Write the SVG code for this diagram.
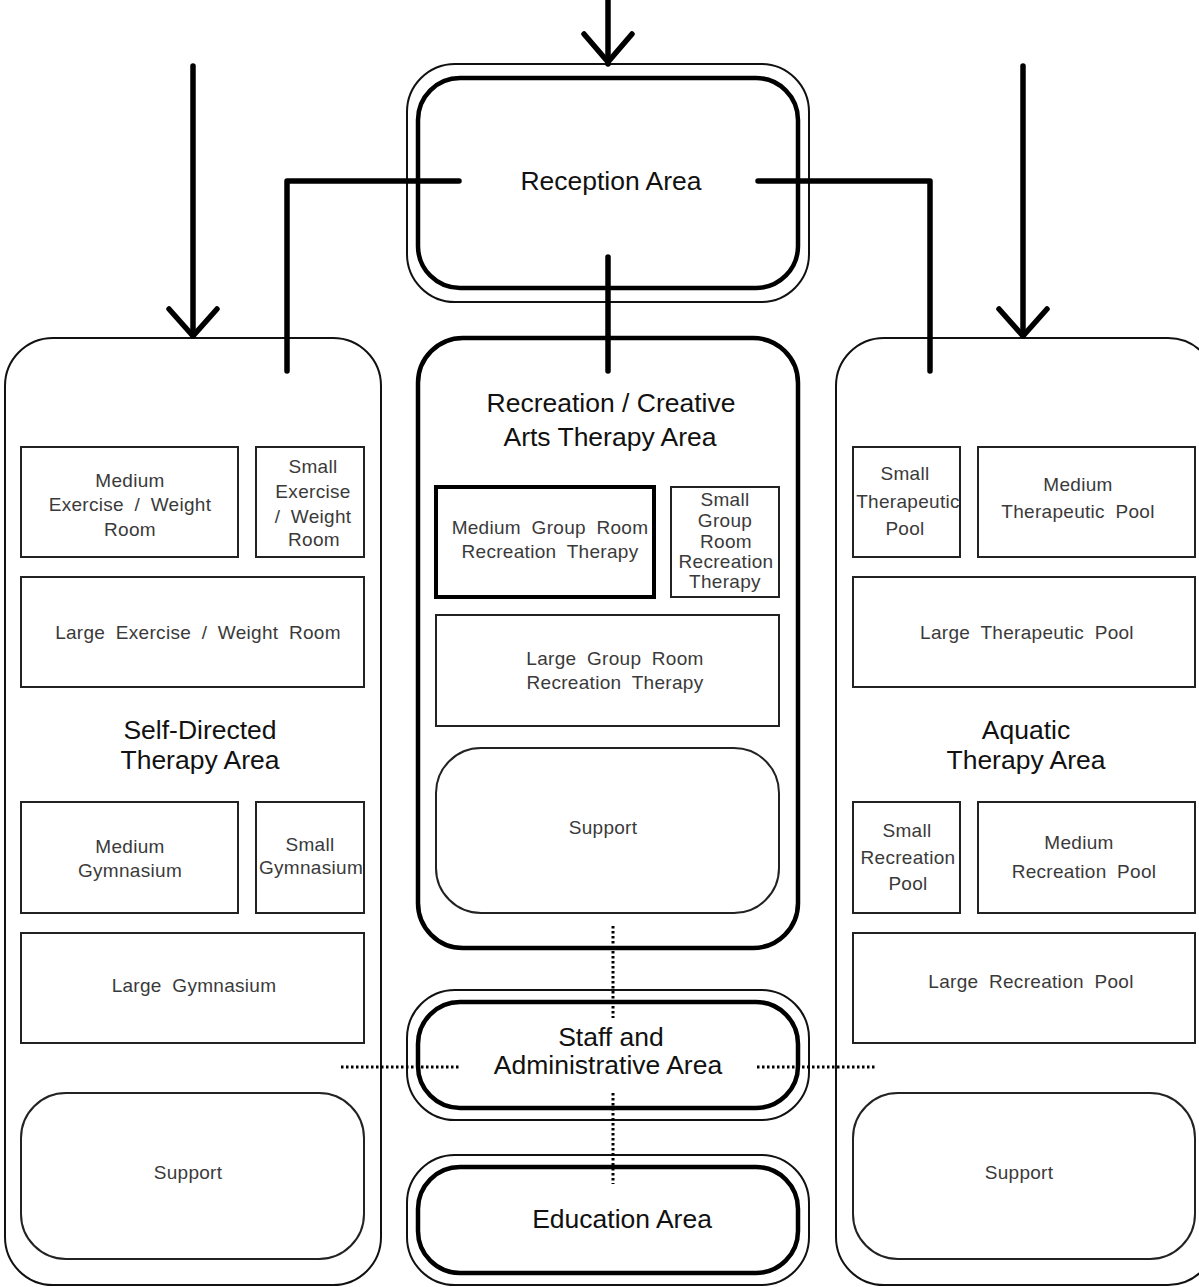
<svg xmlns="http://www.w3.org/2000/svg" width="1199" height="1287" viewBox="0 0 1199 1287">
<style>
.thin{fill:none;stroke:#111;stroke-width:2}
.thick{fill:none;stroke:#000;stroke-width:4.5}
.room{fill:none;stroke:#222;stroke-width:2}
.conn{fill:none;stroke:#000;stroke-width:5.5;stroke-linecap:round;stroke-linejoin:round}
.dot{fill:none;stroke:#000;stroke-width:3;stroke-dasharray:2.5 2.5}
.title{font-family:"Liberation Sans",Arial,sans-serif;font-size:26.5px;fill:#111;text-anchor:middle}
.lbl{font-family:"Liberation Sans",Arial,sans-serif;font-size:19px;fill:#3a3a3a;text-anchor:middle;letter-spacing:0.3px;word-spacing:5px}
</style>
<rect width="1199" height="1287" fill="#fff"/>

<g id="reception">
<rect class="thin" x="407" y="64" width="402" height="238" rx="48"/>
<rect class="thick" x="418" y="78" width="380" height="210" rx="42"/>
<text class="title" x="611" y="190">Reception Area</text>
</g>

<g id="self-directed">
<rect class="thin" x="5" y="338" width="376" height="947" rx="48"/>
<text class="title" x="200" y="739">Self-Directed</text>
<text class="title" x="200" y="769">Therapy Area</text>
<g id="medium-exercise"><rect class="room" x="21" y="447" width="217" height="110"/>
<text class="lbl" x="130" y="487">Medium</text><text class="lbl" x="130" y="511">Exercise / Weight</text><text class="lbl" x="130" y="536">Room</text></g>
<g id="small-exercise"><rect class="room" x="256" y="447" width="108" height="110"/>
<text class="lbl" x="313" y="473">Small</text><text class="lbl" x="313" y="498">Exercise</text><text class="lbl" x="313" y="523">/ Weight</text><text class="lbl" x="314" y="546">Room</text></g>
<g id="large-exercise"><rect class="room" x="21" y="577" width="343" height="110"/>
<text class="lbl" x="198" y="639">Large Exercise / Weight Room</text></g>
<g id="medium-gym"><rect class="room" x="21" y="802" width="217" height="111"/>
<text class="lbl" x="130" y="853">Medium</text><text class="lbl" x="130" y="877">Gymnasium</text></g>
<g id="small-gym"><rect class="room" x="256" y="802" width="108" height="111"/>
<text class="lbl" x="310" y="851">Small</text><text class="lbl" x="311" y="874">Gymnasium</text></g>
<g id="large-gym"><rect class="room" x="21" y="933" width="343" height="110"/>
<text class="lbl" x="194" y="992">Large Gymnasium</text></g>
<g id="support-left"><rect class="room" x="21" y="1093" width="343" height="166" rx="45"/>
<text class="lbl" x="188" y="1179">Support</text></g>
</g>

<g id="recreation">
<rect class="thick" x="418" y="338" width="380" height="610" rx="45"/>
<text class="title" x="611" y="412">Recreation / Creative</text>
<text class="title" x="610" y="446">Arts Therapy Area</text>
<g id="medium-group"><rect fill="none" stroke="#000" stroke-width="4" x="436" y="487" width="218" height="110"/>
<text class="lbl" x="550" y="534">Medium Group Room</text><text class="lbl" x="550" y="558">Recreation Therapy</text></g>
<g id="small-group"><rect class="room" x="671" y="487" width="108" height="110"/>
<text class="lbl" x="725" y="506">Small</text><text class="lbl" x="725" y="527">Group</text><text class="lbl" x="726" y="548">Room</text><text class="lbl" x="726" y="568">Recreation</text><text class="lbl" x="725" y="588">Therapy</text></g>
<g id="large-group"><rect class="room" x="436" y="615" width="343" height="111"/>
<text class="lbl" x="615" y="665">Large Group Room</text><text class="lbl" x="615" y="689">Recreation Therapy</text></g>
<g id="support-center"><rect class="room" x="436" y="748" width="343" height="165" rx="45"/>
<text class="lbl" x="603" y="834">Support</text></g>
</g>

<g id="aquatic">
<rect class="thin" x="836" y="338" width="380" height="947" rx="48"/>
<text class="title" x="1026" y="739">Aquatic</text>
<text class="title" x="1026" y="769">Therapy Area</text>
<g id="small-ther"><rect class="room" x="853" y="447" width="107" height="110"/>
<text class="lbl" x="905" y="480">Small</text><text class="lbl" x="908" y="508">Therapeutic</text><text class="lbl" x="905" y="535">Pool</text></g>
<g id="medium-ther"><rect class="room" x="978" y="447" width="217" height="110"/>
<text class="lbl" x="1078" y="491">Medium</text><text class="lbl" x="1078" y="518">Therapeutic Pool</text></g>
<g id="large-ther"><rect class="room" x="853" y="577" width="342" height="110"/>
<text class="lbl" x="1027" y="639">Large Therapeutic Pool</text></g>
<g id="small-rec"><rect class="room" x="853" y="802" width="107" height="111"/>
<text class="lbl" x="907" y="837">Small</text><text class="lbl" x="908" y="864">Recreation</text><text class="lbl" x="908" y="890">Pool</text></g>
<g id="medium-rec"><rect class="room" x="978" y="802" width="217" height="111"/>
<text class="lbl" x="1079" y="849">Medium</text><text class="lbl" x="1084" y="878">Recreation Pool</text></g>
<g id="large-rec"><rect class="room" x="853" y="933" width="342" height="110"/>
<text class="lbl" x="1031" y="988">Large Recreation Pool</text></g>
<g id="support-right"><rect class="room" x="853" y="1093" width="342" height="166" rx="45"/>
<text class="lbl" x="1019" y="1179">Support</text></g>
</g>

<g id="staff">
<rect class="thin" x="407" y="990" width="402" height="130" rx="48"/>
<rect class="thick" x="418" y="1002" width="380" height="106" rx="42"/>
<text class="title" x="611" y="1046">Staff and</text>
<text class="title" x="608" y="1074">Administrative Area</text>
</g>

<g id="education">
<rect class="thin" x="407" y="1155" width="402" height="130" rx="48"/>
<rect class="thick" x="418" y="1167" width="380" height="106" rx="42"/>
<text class="title" x="622" y="1228">Education Area</text>
</g>

<g id="connectors">
<line class="conn" x1="608" y1="0" x2="608" y2="64"/>
<polyline class="conn" points="584,34 608,62 632,34"/>
<line class="conn" x1="193" y1="66" x2="193" y2="336"/>
<polyline class="conn" points="169,309 193,336 217,309"/>
<line class="conn" x1="1023" y1="66" x2="1023" y2="336"/>
<polyline class="conn" points="999,309 1023,336 1047,309"/>
<polyline class="conn" points="459,181 287,181 287,371"/>
<polyline class="conn" points="758,181 930,181 930,371"/>
<line class="conn" x1="608" y1="257" x2="608" y2="371"/>
<line class="dot" x1="341" y1="1067" x2="460" y2="1067"/>
<line class="dot" x1="757" y1="1067" x2="877" y2="1067"/>
<line class="dot" x1="613" y1="926" x2="613" y2="1018"/>
<line class="dot" x1="613" y1="1093" x2="613" y2="1184"/>
</g>
</svg>
